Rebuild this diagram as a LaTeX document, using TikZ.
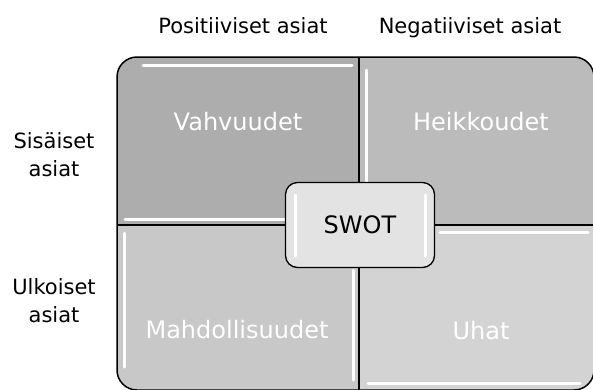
\documentclass[tikz,border=0pt]{standalone}
\usepackage{fontspec}
\setmainfont{DejaVu Sans}
\definecolor{vahvuus}{HTML}{ADADAD}
\definecolor{heikkous}{HTML}{BBBBBB}
\definecolor{mahdollisuus}{HTML}{C8C8C8}
\definecolor{uhka}{HTML}{D3D3D3}
\definecolor{swotpohja}{HTML}{E3E3E3}
\tikzset{
  otsikko/.style={font=\fontsize{21}{25}\selectfont, anchor=base},
  sivu/.style={font=\fontsize{21}{28}\selectfont, align=center},
  ruutu/.style={font=\fontsize{24}{28}\selectfont, text=white, anchor=base},
  kiilto/.style={white, line width=3pt, line cap=round},
}

\begin{document}
\begin{tikzpicture}[x=1pt, y=-1pt]
    \useasboundingbox (0,0) rectangle (593,389);
    % nelikentta
    \begin{scope}
        \clip[rounded corners=20pt] (117,57) rectangle (594,390);
        \fill[vahvuus] (117,57) rectangle (359,225);
        \fill[heikkous] (359,57) rectangle (594,225);
        \fill[mahdollisuus] (117,225) rectangle (359,390);
        \fill[uhka] (359,225) rectangle (594,390);
        \draw[kiilto] (143,65) -- (352,65);
        \draw[kiilto] (125,219) -- (300,219);
        \draw[kiilto] (366,70) -- (366,219);
        \draw[kiilto] (124,233) -- (124,367);
        \draw[kiilto] (353,270) -- (353,380);
        \draw[kiilto] (440,232) -- (588,232);
        \draw[kiilto] (368,383) -- (580,383);
    \end{scope}
    \draw[line width=1.5pt, rounded corners=20pt] (117,57) rectangle (594,390);
    \draw[line width=1.8pt] (359,57) -- (359,390);
    \draw[line width=1.8pt] (117,225) -- (594,225);
    % otsikot
    \node[otsikko] (positiiviset) at (243,33) {Positiiviset asiat};
    \node[otsikko] (negatiiviset) at (470,33) {Negatiiviset asiat};
    \node[sivu] (sisaiset) at (54,155) {Sisäiset\\asiat};
    \node[sivu] (ulkoiset) at (54,301) {Ulkoiset\\asiat};
    % ruudut
    \node[ruutu] (vahvuudet) at (238,130) {Vahvuudet};
    \node[ruutu] (heikkoudet) at (481,130) {Heikkoudet};
    \node[ruutu] (mahdollisuudet) at (237,338) {Mahdollisuudet};
    \node[ruutu] (uhat) at (481,339) {Uhat};
    % keskella
    \node[draw, line width=1.3pt, rounded corners=12pt, fill=swotpohja,
        minimum width=149pt, minimum height=85pt,
        font=\fontsize{24}{28}\selectfont] (swot) at (360,225) {SWOT};
    \draw[kiilto] (295,195) -- (295,256);
    \draw[kiilto] (425,195) -- (425,256);
\end{tikzpicture}
\end{document}
